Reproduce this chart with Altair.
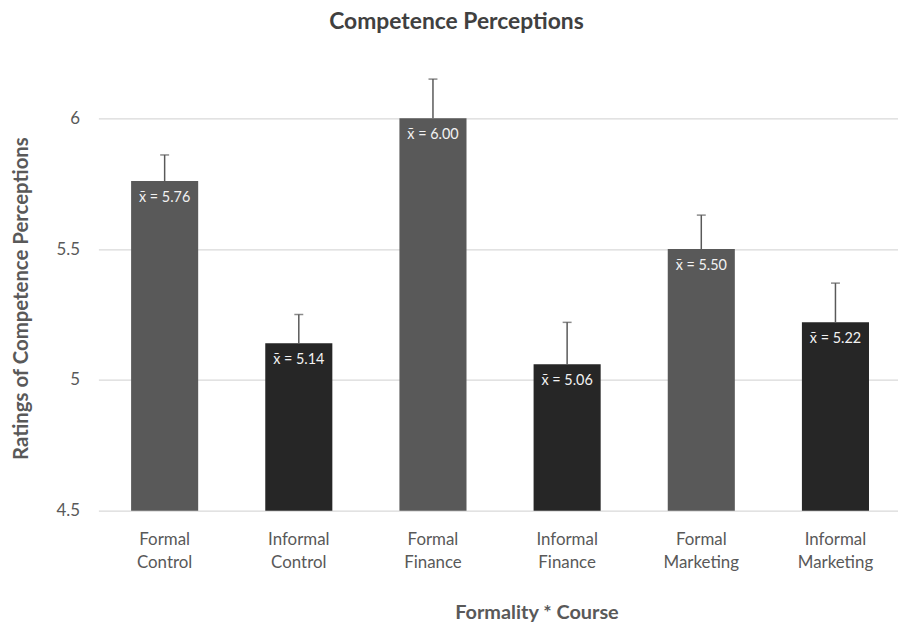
import altair as alt
import pandas as pd

categories = ["Formal Control", "Informal Control", "Formal Finance",
              "Informal Finance", "Formal Marketing", "Informal Marketing"]
formality = ["Formal", "Informal", "Formal", "Informal", "Formal", "Informal"]
means = [5.76, 5.14, 6.00, 5.06, 5.50, 5.22]
upper = [5.86, 5.25, 6.15, 5.22, 5.63, 5.37]
y_ticks = [4.5, 5, 5.5, 6]

df = pd.DataFrame({
    "cat": categories,
    "formality": formality,
    "mean": means,
    "upper": upper,
})
df["label"] = ["x\u0304 = " + f"{m:.2f}" for m in means]

FONT = "Lato"
GREY = "#595959"

x_enc = alt.X("cat:N", sort=categories,
              scale=alt.Scale(paddingInner=0.5, paddingOuter=0.23, align=0.53),
              axis=alt.Axis(title="Formality * Course",
                            labelExpr="split(datum.label, ' ')",
                            labelAngle=0, labelFontSize=17, labelColor=GREY,
                            labelFont=FONT, labelLineHeight=23, labelPadding=21,
                            ticks=False, domain=False,
                            titleFont=FONT, titleFontSize=20, titleFontWeight="bold",
                            titleColor=GREY, titlePadding=33, titleX=441,
                            titleAlign="center"))
y_scale = alt.Scale(domain=[4.5, 6], nice=False, zero=False)

bars = alt.Chart(df).mark_bar().encode(
    x=x_enc,
    y=alt.Y("mean:Q", scale=y_scale,
            axis=alt.Axis(title="Ratings of Competence Perceptions", values=y_ticks,
                          labelExpr="datum.value + ''",
                          labelFontSize=17, labelColor=GREY, labelFont=FONT,
                          labelPadding=19, ticks=False, domain=False,
                          gridColor="#d9d9d9", gridWidth=1.2,
                          titleFont=FONT, titleFontSize=20.5, titleFontWeight="bold",
                          titleColor=GREY, titleX=-77, titleY=181,
                          titleAlign="center", titleBaseline="middle")),
    y2=alt.datum(4.5),
    color=alt.Color("formality:N",
                    scale=alt.Scale(domain=["Formal", "Informal"],
                                    range=["#595959", "#262626"]),
                    legend=None),
)

err = alt.Chart(df).mark_rule(color=GREY, strokeWidth=1.5).encode(
    x=alt.X("cat:N", sort=categories),
    y="mean:Q",
    y2="upper:Q",
)

caps = alt.Chart(df).mark_tick(color=GREY, thickness=1.5, size=9, orient="horizontal").encode(
    x=alt.X("cat:N", sort=categories),
    y="upper:Q",
)

labels = alt.Chart(df).mark_text(color="#f2f2f2", fontSize=14.5, font=FONT,
                                 baseline="middle", dy=17).encode(
    x=alt.X("cat:N", sort=categories),
    y="mean:Q",
    text="label:N",
)

chart = alt.layer(bars, err, caps, labels).properties(
    width=805, height=395,
    title=alt.TitleParams("Competence Perceptions", font=FONT, fontSize=23,
                          fontWeight="bold", color="#404040", anchor="middle",
                          baseline="alphabetic", dx=-42, offset=27),
    autosize=alt.AutoSizeParams(type="none"),
    padding={"left": 91, "top": 109, "right": 0, "bottom": 110},
).configure_view(stroke=None)

chart.save("out.html", embed_options={"renderer": "svg", "actions": False})
